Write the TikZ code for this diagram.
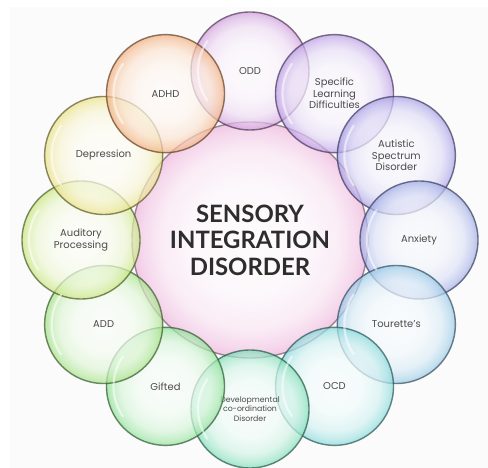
\documentclass[tikz,border=0pt]{standalone}
\usepackage{fontspec}
\usetikzlibrary{calc}
\setmainfont{Poppins}
\newfontfamily\titlefont{Lato}
\definecolor{txt}{RGB}{75,75,75}
\definecolor{ttl}{RGB}{45,45,45}
\definecolor{csid}{RGB}{238,180,220}
\definecolor{codd}{RGB}{200,140,215}
\definecolor{csld}{RGB}{175,140,225}
\definecolor{caut}{RGB}{150,140,225}
\definecolor{canx}{RGB}{140,155,225}
\definecolor{ctou}{RGB}{130,190,225}
\definecolor{cocd}{RGB}{110,210,210}
\definecolor{cdev}{RGB}{100,215,170}
\definecolor{cgif}{RGB}{120,220,130}
\definecolor{cadd}{RGB}{145,220,110}
\definecolor{caud}{RGB}{190,225,100}
\definecolor{cdep}{RGB}{230,220,110}
\definecolor{cadh}{RGB}{240,160,100}
\newcommand\mkball[1]{\pgfdeclareradialshading{ball#1}{\pgfpoint{0bp}{0bp}}{color(0bp)=(#1!4!white); color(12bp)=(#1!10!white); color(19bp)=(#1!28!white); color(23bp)=(#1!60!white); color(25bp)=(#1!85!white); color(50bp)=(#1!85!white)}}
\mkball{csid}\mkball{codd}\mkball{csld}\mkball{caut}\mkball{canx}\mkball{ctou}
\mkball{cocd}\mkball{cdev}\mkball{cgif}\mkball{cadd}\mkball{caud}\mkball{cdep}\mkball{cadh}
\begin{document}
\begin{tikzpicture}[x=1bp,y=1bp,
  ball/.style={circle, minimum size=118bp, inner sep=0pt, draw=#1!40!black, draw opacity=0.7,
    line width=1.4bp, shade, shading=ball#1, fill opacity=0.72, text opacity=1, text=txt,
    align=center, font=\fontsize{10}{11.5}\selectfont},
  hub/.style={circle, minimum size=236bp, inner sep=0pt, draw=#1!40!black, draw opacity=0.6,
    line width=1.4bp, shade, shading=ball#1, fill opacity=0.85, text opacity=1, text=ttl,
    align=center, font=\titlefont\bfseries\fontsize{24}{26.5}\selectfont},
  gloss/.style={white, line width=2.2bp, opacity=0.55, line cap=round}
]
\useasboundingbox (0,0) rectangle (488,468);
\fill[white] (0,0) rectangle (488,468);
\fill[black!1.5] (10,0) rectangle (488,461);
\coordinate (o) at (250,228);
\node[hub=csid] (sid) at (o) {SENSORY\\INTEGRATION\\DISORDER};
\node[ball=codd] (odd) at ($(o)+(90:169)$) {ODD};
\node[ball=csld] (sld) at ($(o)+(60:169)$) {Specific\\Learning\\Difficulties};
\node[ball=caut] (aut) at ($(o)+(30:169)$) {Autistic\\Spectrum\\Disorder};
\node[ball=canx] (anx) at ($(o)+(0:169)$) {Anxiety};
\node[ball=ctou] (tou) at ($(o)+(-30:169)$) {Tourette's};
\node[ball=cocd] (ocd) at ($(o)+(-60:169)$) {OCD};
\node[ball=cdev, font=\fontsize{7.8}{9.3}\selectfont] (dev) at ($(o)+(-90:169)$) {Developmental\\co-ordination\\Disorder};
\node[ball=cgif] (gif) at ($(o)+(-120:169)$) {Gifted};
\node[ball=cadd] (add) at ($(o)+(-150:169)$) {ADD};
\node[ball=caud] (aud) at ($(o)+(180:169)$) {Auditory\\Processing};
\node[ball=cdep] (dep) at ($(o)+(150:169)$) {Depression};
\node[ball=cadh] (adh) at ($(o)+(120:169)$) {ADHD};
\foreach \n in {odd,sld,aut,anx,tou,ocd,dev,gif,add,aud,dep,adh}{
  \draw[gloss] ($(\n.center)+(145:52)$) arc[start angle=145, end angle=215, radius=52];
}
\end{tikzpicture}
\end{document}
